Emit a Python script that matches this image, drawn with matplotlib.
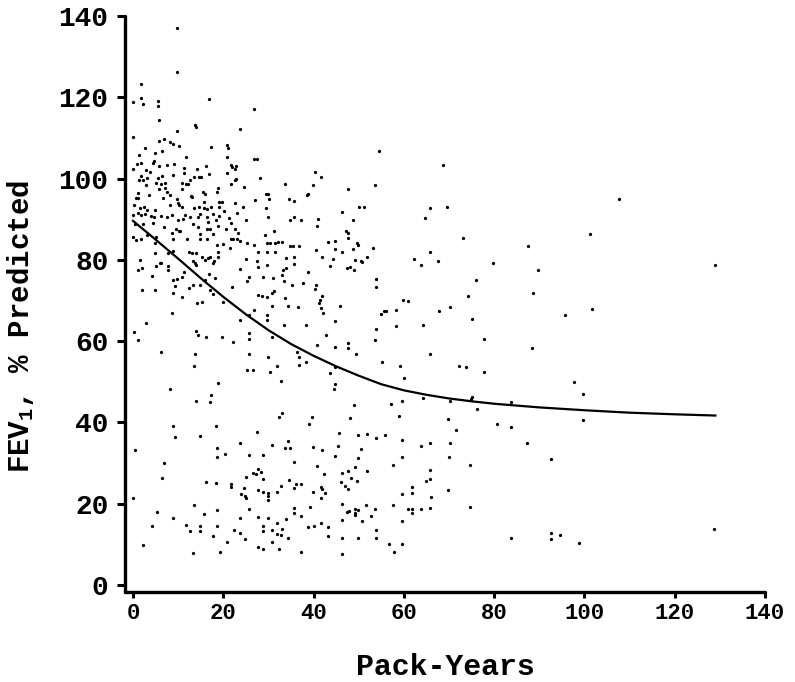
import matplotlib
matplotlib.use("Agg")
import matplotlib.pyplot as plt
import numpy as np

# (pack-years, FEV1 % predicted), grouped by region
group_a = [(9.8,137.0),(9.8,126.2),(1.8,123.3),(0.0,118.9),(1.8,119.9),(2.2,118.4),(16.8,119.5),(5.6,119.1),(5.6,117.9),(26.7,117.2),(5.8,114.3),(13.8,113.3),(14.0,112.8),(0.1,110.3),(23.8,112.1),(9.8,111.6),(5.8,109.3),(6.8,109.8),(8.2,109.1),(8.9,108.4),(10.1,107.9),(2.7,107.4),(17.2,107.7),(20.8,108.2),(21.0,107.6),(4.8,106.2),(6.4,106.7),(11.8,105.4),(1.3,105.7),(20.8,105.2),(26.7,104.9),(27.4,104.9),(0.8,103.7),(1.8,103.9),(4.4,103.9),(4.7,104.3),(5.8,103.1),(7.5,103.4),(9.0,103.7),(21.7,103.3),(21.9,102.8),(22.9,103.1),(22.5,102.3),(16.1,103.0),(0.1,102.3),(2.8,102.1),(11.3,102.5),(14.1,102.3),(3.8,101.5),(20.8,101.4),(11.2,101.3),(8.9,101.0),(1.8,100.7),(6.4,100.7),(14.6,100.5),(15.1,100.5),(16.8,101.1),(3.2,100.1),(1.3,99.6),(5.5,100.1),(2.3,99.6),(13.5,100.4),(12.6,99.7),(22.6,99.7),(22.8,100.0),(28.2,100.1),(5.2,98.9),(7.0,99.0),(10.8,99.0),(11.7,98.7),(12.1,98.7),(2.8,98.4),(6.1,98.6),(21.8,98.7),(33.6,98.6),(7.2,97.8),(24.7,98.0),(10.9,97.5),(5.7,97.4),(18.9,97.6),(1.0,96.4),(7.5,96.7),(15.6,96.6),(16.0,96.3),(12.8,95.8),(13.1,95.5),(18.5,96.8),(3.5,96.0),(8.2,96.0),(29.5,96.2),(29.9,96.1),(0.7,95.3),(1.2,95.2),(6.7,95.1),(9.8,94.9),(27.1,94.8),(30.2,95.0),(34.6,95.0)]

group_b = [(0.3,93.4),(1.6,92.8),(2.4,93.1),(3.2,92.3),(4.8,92.3),(8.3,93.4),(9.9,93.9),(10.3,93.4),(10.9,93.0),(13.5,92.7),(14.7,93.0),(15.7,94.3),(15.8,92.7),(16.5,92.5),(17.2,93.0),(19.0,94.3),(19.1,93.0),(19.7,94.3),(22.7,94.1),(24.4,93.0),(29.5,92.7),
(0.0,91.1),(1.0,91.5),(1.8,91.1),(2.7,91.3),(3.9,90.8),(4.7,90.6),(6.3,90.9),(7.5,90.5),(8.6,91.1),(10.0,89.7),(11.0,90.0),(11.6,91.1),(12.6,90.5),(14.3,90.6),(14.8,91.3),(16.3,90.5),(16.7,89.2),(17.8,91.3),(18.4,89.7),(19.1,90.8),(20.2,91.9),(21.3,90.2),(23.0,91.6),(25.0,89.7),(29.8,90.5),(34.8,89.7),
(0.4,88.8),(2.3,88.8),(4.4,89.0),(6.9,88.0),(9.5,87.5),(10.5,87.2),(13.4,88.8),(14.3,88.0),(16.5,87.5),(17.1,87.5),(18.9,88.4),(20.6,87.7),(21.6,89.0),(22.7,87.7),(14.8,86.4),(17.8,86.4),(23.3,86.7),(29.3,86.1),(31.2,87.0),
(0.1,85.6),(0.7,84.9),(1.7,85.1),(3.0,86.1),(5.2,85.7),(4.9,84.2),(8.6,86.5),(8.9,85.1),(10.2,87.0),(11.9,85.1),(14.8,85.1),(16.5,85.1),(18.5,83.7),(19.9,83.9),(21.7,85.1),(22.2,85.1),(23.0,85.1),(23.7,84.7),(25.2,84.2),(26.7,83.7),(29.6,84.1),(30.4,84.1),(31.5,84.2),(32.2,84.5),(32.9,84.5),(34.8,83.3)]

group_c = [(4.9,81.8),(7.8,81.8),(8.9,82.3),(12.3,82.0),(13.0,81.6),(14.0,81.6),(15.2,80.8),(16.0,80.0),(17.1,80.8),(17.8,79.2),(18.9,82.0),(21.5,82.9),(25.0,80.1),(27.8,82.0),(27.5,79.6),(29.6,82.0),(31.5,82.0),(33.9,80.4),(1.6,80.0),(1.0,77.5),(1.9,77.9),(6.0,79.3),(7.7,78.5),(7.8,77.4),(13.2,79.6),(13.7,79.2),(14.0,78.8),(16.7,80.4),(18.0,79.6),(18.9,80.6),(23.7,77.7),(25.6,75.9),(25.2,74.7),(27.8,78.3),(29.6,78.8),(28.9,75.9),(31.1,75.5),(32.9,76.3),(33.3,77.4),(34.0,77.9),(33.5,74.7),
(4.3,76.0),(5.0,78.5),(6.1,79.2),(8.9,75.1),(9.2,73.6),(9.8,75.2),(10.8,75.7),(11.2,76.9),(12.5,73.0),(13.4,73.8),(14.8,73.8),(16.0,75.1),(16.8,76.5),(17.1,72.6),(18.2,75.5),(21.9,73.3),(8.8,71.8),(10.8,70.8),(17.8,71.6),(27.8,71.4),(28.5,71.0),(29.6,70.8),(30.7,71.8),(31.2,72.4),(33.7,70.5),(2.0,72.6),(4.9,72.6),
(8.6,66.9),(14.1,69.3),(15.2,69.7),(20.0,69.7),(23.7,65.2),(25.6,66.4),(26.7,67.7),(29.6,66.4),(29.7,65.2),(30.8,68.7),(34.4,68.7),(33.5,64.0),(2.9,64.4),(0.3,62.2),(1.0,60.3),(14.0,62.6),(14.3,61.5),(16.1,61.1),(19.8,61.0),(22.2,59.9),(25.6,61.9),(25.8,60.5),(30.8,61.0),
(6.1,57.4),(13.7,56.9),(13.5,54.0),(25.7,56.9),(25.2,52.8),(26.5,52.9),(29.8,56.2),(32.0,54.0),(30.4,52.3),(32.8,50.2),(18.8,49.6),(8.2,48.3)]

group_d = [(17.3,46.7),(14.0,45.3),(17.1,45.0),(8.8,39.2),(18.3,39.0),(9.4,36.3),(14.8,36.6),(27.5,37.7),(32.4,41.4),(32.9,42.2),(0.5,33.2),(23.7,34.9),(30.8,34.5),(34.3,35.4),(33.6,33.8),(34.8,33.8),(18.5,33.6),(18.5,31.6),(20.3,32.2),(25.8,32.0),(28.7,32.0),(6.8,29.9),(6.5,26.3),(16.2,25.4),(18.3,25.0),(21.8,24.8),(21.8,24.1),(25.0,26.5),(26.5,27.5),(27.3,27.2),(27.7,28.6),(28.3,27.9),(28.7,26.0),(24.7,23.8),(32.7,24.4),(34.6,25.8),(27.8,23.4),(28.7,22.8),(29.8,22.6),(29.8,21.9),(29.8,20.9),(31.8,23.0),(23.9,22.3),(24.8,21.9),(25.0,21.3),(0.1,21.3),(13.5,19.7),(5.3,17.9),(18.5,18.5),(25.8,18.6),(15.8,17.5),(8.8,16.5),(23.8,16.4),(27.8,16.7),(29.8,16.4),(33.8,16.2),(4.3,14.4),(11.8,14.8),(12.6,13.2),(14.8,14.5),(14.8,13.4),(18.5,14.4),(17.8,12.1),(22.3,13.5),(23.8,12.9),(24.8,11.4),(28.8,14.4),(28.8,13.4),(30.8,13.5),(31.8,12.6),(31.8,15.2),(32.9,13.9),(32.8,12.3),(34.3,11.6),(2.2,9.9),(20.8,10.7),(27.8,9.4),(28.8,8.8),(30.8,10.5),(32.3,8.8),(13.3,7.9),(19.3,8.1)]

group_e = [(54.6,106.9),(68.7,103.4),(40.4,101.6),(41.7,100.5),(39.8,98.4),(38.6,95.9),(38.8,96.1),(47.7,97.5),(53.7,98.3),
(35.7,94.5),(50.0,93.1),(51.2,93.1),(65.7,92.7),(69.6,93.1),(35.7,90.6),(37.3,89.8),(40.9,90.0),(40.7,88.4),(46.3,91.7),(48.7,89.8),(64.7,90.2),(47.2,87.1),(47.7,86.5),(47.6,85.5),(43.1,84.3),(44.7,84.7),(49.7,84.1),(49.8,83.7),(40.5,82.4),(44.8,82.6),(46.2,81.9),(48.7,82.7),(53.2,82.8),(65.7,82.0),(35.4,83.4),(36.7,83.5),(41.8,80.8),(44.4,80.1),(43.7,78.5),(49.2,80.0),(50.5,79.7),(50.7,79.4),(51.8,80.8),(62.3,80.3),(63.7,78.8),(67.5,79.7),(35.6,80.6),(35.6,79.0),(38.7,76.9),(47.4,77.9),(48.0,78.3),(49.0,77.4),
(37.7,74.2),(35.3,73.7),(40.6,73.7),(40.3,72.8),(53.8,75.2),(53.8,73.2),(41.8,71.0),(41.5,70.1),(41.1,69.3),(41.7,68.1),(42.0,67.0),(36.6,68.3),(45.8,68.7),(59.8,70.1),(60.9,70.0),(54.9,66.8),(55.7,67.3),(56.1,67.5),(58.2,67.7),(67.7,67.4),(70.2,68.3),(38.3,64.0),(44.8,64.9),(53.8,63.1),(58.2,63.7),(64.2,63.9),(42.8,61.4),(53.5,60.3),(40.7,59.0),(44.8,58.5),(47.7,59.6),(47.7,58.3),(49.3,56.9),(36.3,57.4),(36.7,56.2),(36.8,54.1),(38.3,54.8),(44.8,53.7),(43.7,52.2),(55.2,54.9),(59.2,53.8),(60.0,51.0),(65.7,56.8),(44.8,49.4),(44.5,48.2)]

group_f = [(48.9,44.4),(57.1,44.6),(59.7,45.3),(64.3,46.0),(70.2,45.3),(39.7,41.3),(38.9,39.5),(48.0,41.2),(58.9,41.7),(69.7,40.9),(45.7,37.4),(49.8,36.9),(51.8,37.1),(53.8,36.2),(55.8,36.8),(59.7,35.8),(63.7,34.2),(65.7,34.9),(70.2,35.0),(39.8,34.0),(41.8,33.2),(45.5,34.3),(50.4,33.4),(44.8,31.8),(49.8,31.2),(59.7,31.4),(69.9,31.4),(35.7,30.2),(40.8,29.2),(42.3,27.2),(46.3,27.5),(47.7,28.1),(49.2,29.1),(51.8,28.1),(57.5,29.5),(65.7,28.2),(48.2,26.4),(49.6,25.6),(46.0,25.3),(47.0,24.4),(47.7,23.5),(36.0,24.8),(35.7,23.9),(37.3,24.9),(39.8,22.8),(41.7,24.0),(41.8,23.7),(42.6,22.6),(41.7,21.3),(61.7,24.2),(61.7,22.6),(64.8,25.5),(65.7,26.0),(66.0,21.6),(59.7,22.4),(69.7,23.4),
(35.7,19.0),(35.7,17.6),(37.3,16.9),(39.1,19.2),(46.4,20.0),(47.3,17.9),(47.8,18.3),(49.2,18.7),(49.2,17.6),(49.2,17.2),(49.9,18.4),(51.6,19.8),(52.7,17.0),(53.7,18.8),(50.7,15.7),(46.2,16.0),(57.5,19.7),(59.7,15.7),(60.9,18.6),(61.7,18.6),(61.7,17.6),(63.7,18.6),(65.7,19.0),(38.7,14.3),(40.0,14.6),(41.7,15.3),(43.3,14.3),(43.3,12.1),(46.3,11.6),(49.9,11.6),(53.8,13.5),(53.8,11.6),(56.7,10.2),(59.7,10.1),(57.8,8.2),(37.3,8.2),(46.3,7.6)]

group_g = [(107.7,94.9),(101.2,86.4),(128.9,78.8),(73.2,85.4),(87.4,83.5),(79.7,79.2),(89.7,77.5),(75.9,75.1),(74.2,71.2),(88.7,71.9),(75.0,65.5),(101.7,67.8),(95.7,66.4),(77.7,60.5),
(88.3,58.4),(72.2,53.8),(73.7,53.6),(77.7,52.4),(97.7,50.0),(99.6,46.9),(74.8,45.8),(75.2,46.2),(83.7,45.1),(76.1,43.2),(99.6,40.6),(71.6,38.1),(80.7,39.5),(83.7,38.8),(87.2,35.0),(92.7,30.9),(74.7,29.5),(74.7,19.3),(83.7,11.5),(92.7,12.9),(92.7,11.3),(94.7,12.4),(98.7,10.3),(128.6,13.7)]

# fitted curve
curve_x = [0, 5, 10, 15, 20, 25, 30, 35, 40, 45, 50, 55, 60, 65, 70, 75, 80, 90, 100, 110, 120, 129]
curve_y = [89.6, 85.0, 80.3, 75.5, 70.9, 66.6, 62.7, 59.3, 56.4, 53.8, 51.5, 49.4, 47.9, 46.8, 45.9, 45.2, 44.6, 43.7, 43.0, 42.4, 42.0, 41.7]

x_ticks = [0, 20, 40, 60, 80, 100, 120, 140]
y_ticks = [0, 20, 40, 60, 80, 100, 120, 140]

points = group_a + group_b + group_c + group_d + group_e + group_f + group_g
pack_years = np.array([p[0] for p in points])
fev1 = np.array([p[1] for p in points])

plt.rcParams['font.family'] = ['Liberation Mono', 'DejaVu Sans Mono']
plt.rcParams['font.weight'] = 'bold'
plt.rcParams['mathtext.fontset'] = 'custom'
plt.rcParams['mathtext.rm'] = 'Liberation Mono:bold'

fig = plt.figure(figsize=(7.95, 6.82), dpi=100)
ax = fig.add_axes([125/795, 90/682, 640/795, 576/682])

ax.scatter(pack_years, fev1, s=5.5, c='black', linewidths=0, zorder=3)
ax.plot(curve_x, curve_y, color='black', lw=1.6, zorder=4, solid_joinstyle='round')

ax.set_xlim(-1.77, 140)
ax.set_ylim(-1.72, 140)
ax.set_xticks(x_ticks)
ax.set_yticks(y_ticks)
for s in ['top', 'right']:
    ax.spines[s].set_visible(False)
for s in ['left', 'bottom']:
    ax.spines[s].set_linewidth(2.4)
    ax.spines[s].set_capstyle('round')

ax.tick_params(axis='y', length=6, width=2.2, pad=6, labelsize=20)
ax.tick_params(axis='x', length=4, width=2.2, pad=4, labelsize=16)
for lab in ax.get_yticklabels():
    lab.set_fontweight('bold')
for lab in ax.get_xticklabels():
    lab.set_fontweight('bold')

ax.set_xlabel('Pack-Years', fontsize=21.5, fontweight='bold', labelpad=21)
ax.set_ylabel(r'FEV$_{\mathregular{1}}$, % Predicted', fontsize=21, fontweight='bold')
ax.yaxis.set_label_coords((36 - 125) / 640, 0.46)

fig.savefig('out.png', dpi=100)
